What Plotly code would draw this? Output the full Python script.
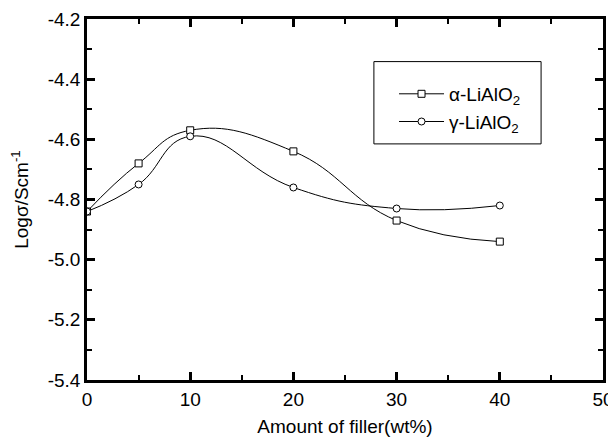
import plotly.graph_objects as go

filler = [0, 5, 10, 20, 30, 40]
alpha_vals = [-4.84, -4.68, -4.57, -4.64, -4.87, -4.94]
gamma_vals = [-4.84, -4.75, -4.59, -4.76, -4.83, -4.82]

x_ticks = [0, 10, 20, 30, 40, 50]
y_ticks = [-4.2, -4.4, -4.6, -4.8, -5.0, -5.2, -5.4]

FONT = "Liberation Sans, Arial, sans-serif"

fig = go.Figure()
fig.add_trace(go.Scatter(
    x=filler, y=alpha_vals, mode="lines+markers",
    name="\u03b1-LiAlO<sub>2</sub>", legendgroup="a",
    line=dict(color="black", width=1, shape="spline", smoothing=1.3),
    marker=dict(symbol="square", size=7, color="white", line=dict(width=1, color="black"))
))
fig.add_trace(go.Scatter(
    x=filler, y=gamma_vals, mode="lines+markers",
    name="\u03b3-LiAlO<sub>2</sub>", legendgroup="g",
    line=dict(color="black", width=1, shape="spline", smoothing=1.3),
    marker=dict(symbol="circle", size=7, color="white", line=dict(width=1, color="black"))
))

axis_common = dict(
    showline=True, linecolor="black", linewidth=2.5, mirror="allticks",
    ticks="inside", ticklen=8, tickwidth=2.5, tickcolor="black",
    showgrid=False, zeroline=False, automargin=False,
    tickfont=dict(family=FONT, size=19, color="black"),
)

fig.update_xaxes(
    range=[0, 50], tickvals=x_ticks, ticktext=[str(v) for v in x_ticks],
    minor=dict(ticks="inside", ticklen=5, tickwidth=2, tickcolor="black", dtick=5, showgrid=False),
    title=dict(text="Amount of filler(wt%)", font=dict(family=FONT, size=19, color="black"), standoff=12),
    **axis_common
)
fig.update_yaxes(
    range=[-5.4, -4.2], tickvals=y_ticks, ticktext=["%.1f" % v for v in y_ticks],
    minor=dict(ticks="inside", ticklen=5, tickwidth=2, tickcolor="black", dtick=0.1, showgrid=False),
    title=dict(text="Log\u03c3/Scm<sup>-1</sup>", font=dict(family=FONT, size=19, color="black"), standoff=20),
    **axis_common
)

# legend frame
fig.add_shape(type="rect", xref="paper", yref="paper",
              x0=0.556, x1=0.880, y0=0.654, y1=0.882,
              line=dict(color="black", width=1), fillcolor="rgba(0,0,0,0)")

fig.update_layout(
    width=608, height=430,
    margin=dict(l=79, r=13, t=11, b=58),
    paper_bgcolor="white", plot_bgcolor="white",
    showlegend=True,
    legend=dict(
        x=0.595, y=0.845, xanchor="left", yanchor="top",
        borderwidth=0, bgcolor="rgba(0,0,0,0)",
        font=dict(family=FONT, size=19, color="black"),
        tracegroupgap=0, itemwidth=45,
    ),
)

fig.write_html("out.html")
